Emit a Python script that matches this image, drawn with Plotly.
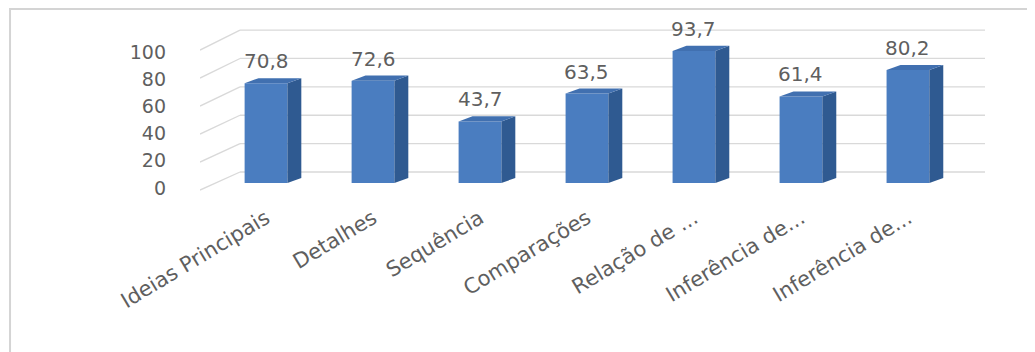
import plotly.graph_objects as go

categories = ["Ideias Principais", "Detalhes", "Sequência", "Comparações",
              "Relação de ...", "Inferência de...", "Inferência de..."]
values = [70.8, 72.6, 43.7, 63.5, 93.7, 61.4, 80.2]
value_labels = ["70,8", "72,6", "43,7", "63,5", "93,7", "61,4", "80,2"]
y_ticks = [0, 20, 40, 60, 80, 100]
y_tick_labels = ["0", "20", "40", "60", "80", "100"]

# perspective styling (in axis units)
BAR_W = 0.4
DX = 0.13      # depth offset along x
DY = 3.6       # depth offset along y
BACK_X0 = -0.243
BACK_X1 = 6.72
BACK_SHIFT = 7.8
FRONT_X0 = -0.617
FRONT_SHIFT = -5.0

FRONT = "#4a7dc0"
SIDE = "#2f5a91"
TOP = "#4170b0"
GRID = "#d9d9d9"
TXT = "#5f5f5f"
FONT = "DejaVu Sans"

xs = list(range(len(categories)))
fig = go.Figure()

# back wall gridlines + side diagonals (drawn below the bars)
for v in y_ticks:
    yb = v * 1.007 + BACK_SHIFT
    yf = v * 0.993 + FRONT_SHIFT
    fig.add_shape(type="line", xref="x", yref="y", x0=FRONT_X0, y0=yf, x1=BACK_X0, y1=yb,
                  line=dict(color=GRID, width=1.3), layer="below")
    fig.add_shape(type="line", xref="x", yref="y", x0=BACK_X0, y0=yb, x1=BACK_X1, y1=yb,
                  line=dict(color=GRID, width=1.3), layer="below")

# front faces
fig.add_trace(go.Bar(x=xs, y=values, width=BAR_W, marker=dict(color=FRONT, line=dict(width=0)),
                     showlegend=False))

# side and top faces
for x, v in zip(xs, values):
    r = x + BAR_W / 2
    l = x - BAR_W / 2
    fig.add_trace(go.Scatter(x=[r, r + DX, r + DX, r, r], y=[0, DY, v + DY, v, 0],
                             mode="lines", fill="toself", fillcolor=SIDE,
                             line=dict(width=0, color=SIDE), hoverinfo="skip", showlegend=False))
    fig.add_trace(go.Scatter(x=[l, l + DX, r + DX, r, l], y=[v, v + DY, v + DY, v, v],
                             mode="lines", fill="toself", fillcolor=TOP,
                             line=dict(width=0, color=TOP), hoverinfo="skip", showlegend=False))

for x, v, t in zip(xs, values, value_labels):
    fig.add_annotation(x=x, y=v, text=t, showarrow=False, yshift=22, yanchor="middle",
                       font=dict(family=FONT, size=20, color=TXT))

# chart-area border
fig.add_shape(type="rect", xref="paper", yref="paper", x0=-0.2420, x1=1.08, y0=-1.2, y1=1.094,
              line=dict(color="#d4d4d4", width=2), layer="below")

fig.update_layout(
    width=1035, height=352,
    margin=dict(l=192, r=58, t=17, b=165, autoexpand=False),
    paper_bgcolor="white", plot_bgcolor="white",
    bargap=0.6,
    xaxis=dict(range=[-0.617, 6.72], tickmode="array", tickvals=xs, ticktext=categories,
               tickangle=-31, showgrid=False, zeroline=False, showline=False, ticks="",
               automargin=False,
               tickfont=dict(family=FONT, size=21, color=TXT), ticklabelstandoff=6),
    yaxis=dict(range=[-8.5, 112.1], tickmode="array",
               tickvals=[v * 0.965 - 3.5 for v in y_ticks], ticktext=y_tick_labels,
               showgrid=False, zeroline=False, showline=False, ticks="", automargin=False,
               tickfont=dict(family=FONT, size=19, color=TXT), ticklabelstandoff=33),
)

fig.write_html("out.html")
